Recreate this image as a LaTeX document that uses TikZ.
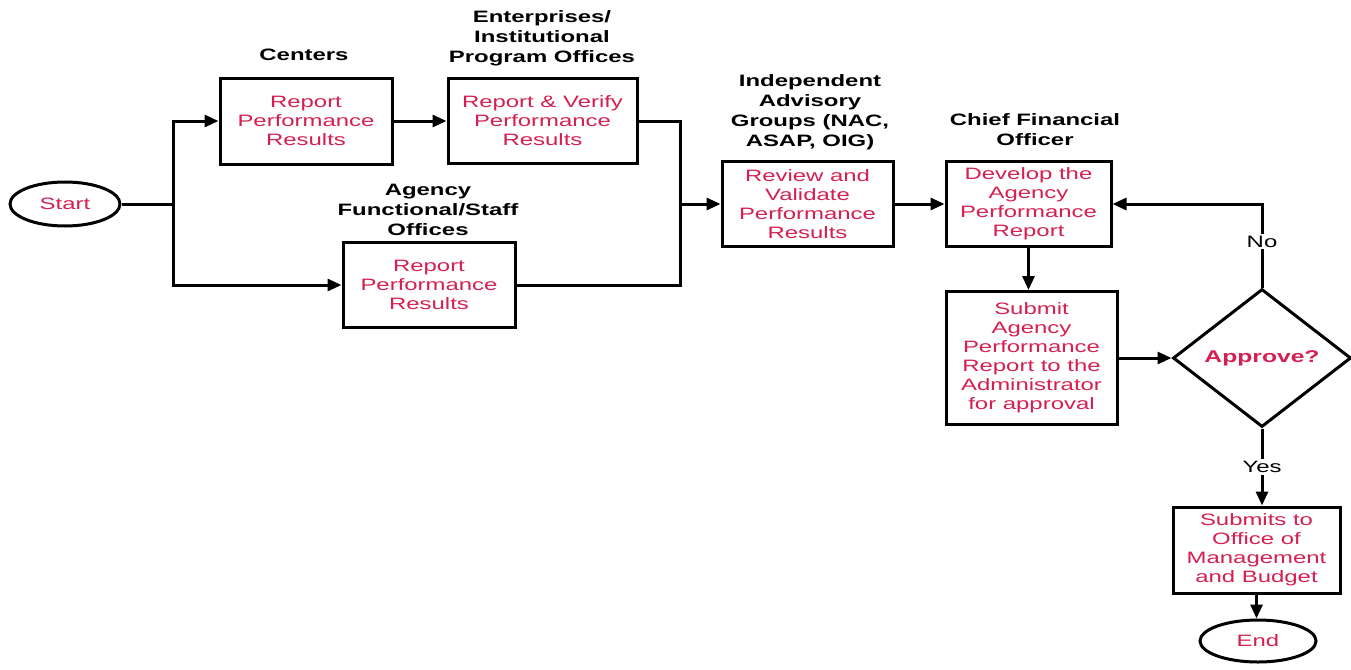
\documentclass[tikz,border=0pt]{standalone}
\usepackage{fontspec}
\setmainfont[FakeStretch=1.45]{Liberation Sans}
\usetikzlibrary{shapes.geometric,arrows.meta}
\definecolor{txtred}{RGB}{212,32,82}
\begin{document}
\begin{tikzpicture}[x=1pt,y=-1pt,
  every node/.style={font=\fontsize{16.5}{19}\selectfont},
  stepbox/.style={draw,line width=3pt,inner sep=0pt,align=center,text=txtred},
  oval/.style={draw,ellipse,line width=3pt,inner sep=0pt,text=txtred},
  lbl/.style={align=center,font=\fontsize{16.5}{20}\selectfont\bfseries},
  conn/.style={line width=3pt},
  arr/.style={line width=3pt,-{Triangle[length=14pt,width=12pt]}}]
\useasboundingbox (0,0) rectangle (1351,669);
\fill[white] (0,0) rectangle (1351,669);
% nodes
\node[oval,minimum width=110pt,minimum height=44pt] (start) at (65,204) {Start};
\node[stepbox,minimum width=172pt,minimum height=86pt] (c1) at (306,121) {Report\\Performance\\Results};
\node[stepbox,minimum width=189pt,minimum height=85pt] (e1) at (542.5,121) {Report \& Verify\\Performance\\Results};
\node[stepbox,minimum width=172pt,minimum height=85pt] (a1) at (429,285) {Report\\Performance\\Results};
\node[stepbox,minimum width=171pt,minimum height=85pt] (r1) at (807.5,204) {Review and\\Validate\\Performance\\Results};
\node[stepbox,minimum width=165pt,minimum height=85pt] (d1) at (1028.5,204) {Develop the\\Agency\\Performance\\Report};
\node[stepbox,minimum width=171pt,minimum height=133pt] (s1) at (1031.5,358) {Submit\\Agency\\Performance\\Report to the\\Administrator\\for approval};
\node[draw,diamond,line width=3pt,inner sep=0pt,minimum width=178pt,minimum height=138pt,text=txtred,font=\fontsize{17}{19}\selectfont\bfseries] (q) at (1262,358) {Approve?};
\node[stepbox,minimum width=167pt,minimum height=86pt] (o1) at (1256.5,550) {Submits to\\Office of\\Management\\and Budget};
\node[oval,minimum width=116pt,minimum height=42pt] (end) at (1258,641) {End};
% labels
\node[lbl] (lc) at (304,55) {Centers};
\node[lbl] (le) at (542,38) {Enterprises/\\Institutional\\Program Offices};
\node[lbl] (la) at (428,210) {Agency\\Functional/Staff\\Offices};
\node[lbl] (li) at (810,112) {Independent\\Advisory\\Groups (NAC,\\ASAP, OIG)};
\node[lbl] (lf) at (1035,130) {Chief Financial\\Officer};
% junctions
\coordinate (j1) at (173,204);
\coordinate (j2) at (680,204);
% connectors
\draw[conn] (start.east) -- (j1);
\draw[arr] (j1) |- (c1.west);
\draw[arr] (j1) |- (a1.west);
\draw[arr] (c1.east) -- (e1.west);
\draw[conn] (e1.east) -| (j2);
\draw[conn] (a1.east) -| (j2);
\draw[arr] (j2) -- (r1.west);
\draw[arr] (r1.east) -- (d1.west);
\draw[arr] (d1.south) -- (d1.south |- s1.north);
\draw[arr] (s1.east) -- (q.west);
\draw[arr] (q.north) -- node[fill=white,inner sep=2pt,pos=0.55] (no) {No} (q.north |- d1.east) -- (d1.east);
\draw[arr] (q.south) -- node[fill=white,inner sep=2pt] (yes) {Yes} (q.south |- o1.north);
\draw[arr] (o1.south) -- (o1.south |- end.north);
\end{tikzpicture}
\end{document}
